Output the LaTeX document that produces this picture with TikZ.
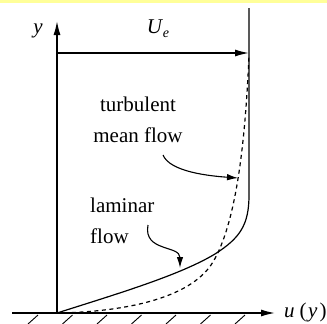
\documentclass[tikz,border=0pt]{standalone}
\usepackage{fontspec}
\setmainfont{Liberation Serif}
\usetikzlibrary{arrows.meta}
\definecolor{topband}{HTML}{FFFF99}
\tikzset{
  axis/.style={line width=1.5pt, -{Latex[length=14pt,width=7pt]}},
  profile/.style={line width=1.2pt},
  turb/.style={line width=1.2pt, dash pattern=on 4pt off 3.5pt},
  pointer/.style={line width=1.1pt, -{Latex[length=11pt,width=6.5pt]}},
  lbl/.style={font=\fontsize{21}{25}\selectfont, inner sep=0pt},
  hatch/.style={line width=0.9pt}
}
\begin{document}
\begin{tikzpicture}[x=1pt,y=-1pt]
\useasboundingbox (0,0) rectangle (327,324);
\fill[topband] (0,0) rectangle (327,3);
% key points
\coordinate (O) at (57,313);
\coordinate (xs) at (12,313);
\coordinate (xe) at (275,313);
\coordinate (ye) at (57,21);
\coordinate (ue) at (249,53);
\coordinate (top) at (249,8);
\coordinate (lamA) at (215,254);
\coordinate (lamB) at (249,195);
\coordinate (turA) at (213,262);
\coordinate (turB) at (249,55);
\coordinate (tarrS) at (163,155);
\coordinate (tarrE) at (238,178);
\coordinate (larrS) at (148,225);
\coordinate (larrE) at (180,268);
% hatching
\foreach \h in {0,...,6} {
  \draw[hatch] ({28+34.5*\h},324) -- ({38+34.5*\h},315);
}
% axes
\draw[axis] (xs) -- (xe);
\draw[axis] (O) -- (ye);
\draw[axis] (O |- ue) -- (ue);
% laminar profile
\draw[profile] (O) .. controls (120,293) and (180,275) .. (lamA)
  .. controls (240,238) and (249,225) .. (lamB) -- (top);
% turbulent profile
\draw[turb] (O) .. controls (120,312) and (190,300) .. (turA)
  .. controls (235,225) and (245,150) .. (turB);
% pointers
\draw[pointer] (tarrS) .. controls (170,172) and (210,176) .. (tarrE);
\draw[pointer] (larrS) .. controls (143,252) and (180,245) .. (larrE);
% labels
\node[lbl, anchor=base] (ylab) at (38,33) {\itshape y};
\node[lbl, anchor=base] (uelab) at (158,33) {\itshape U\kern1pt\raisebox{-4pt}{\fontsize{14}{16}\selectfont e}};
\node[lbl, anchor=base west] (uylab) at (284,317) {\itshape u\kern5pt\upshape(\kern1.5pt\itshape y\kern2pt\upshape)};
\node[lbl, anchor=base] (t1) at (138,111) {turbulent};
\node[lbl, anchor=base] (t2) at (138,142) {mean flow};
\node[lbl, anchor=base west] (l1) at (90,212) {laminar};
\node[lbl, anchor=base west] (l2) at (90,243) {flow};
\end{tikzpicture}
\end{document}
